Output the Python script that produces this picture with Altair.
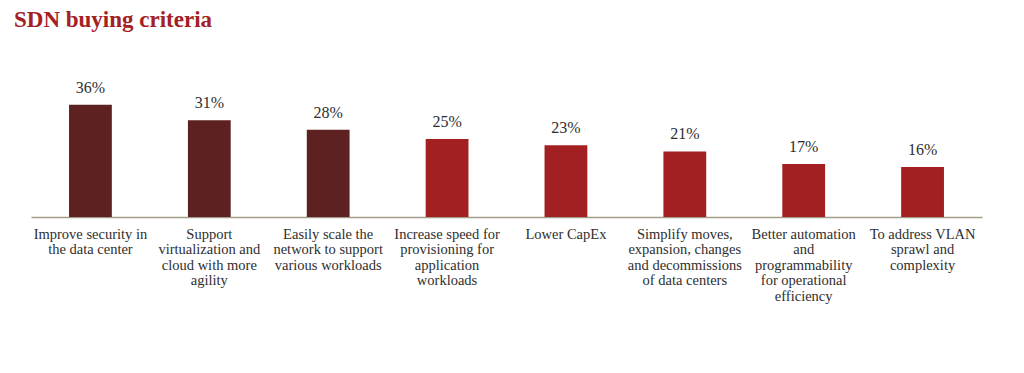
import altair as alt
import pandas as pd

categories = [
    "Improve security in|the data center",
    "Support|virtualization and|cloud with more|agility",
    "Easily scale the|network to support|various workloads",
    "Increase speed for|provisioning for|application|workloads",
    "Lower CapEx",
    "Simplify moves,|expansion, changes|and decommissions|of data centers",
    "Better automation|and|programmability|for operational|efficiency",
    "To address VLAN|sprawl and|complexity",
]
values = [36, 31, 28, 25, 23, 21, 17, 16]
groups = ["top", "top", "top", "rest", "rest", "rest", "rest", "rest"]

df = pd.DataFrame({"cat": categories, "value": values, "group": groups})
df["label"] = df["value"].astype(str) + "%"

FONT = "Liberation Serif"

x = alt.X("cat:N", sort=categories, title=None,
          scale=alt.Scale(paddingInner=0.64, paddingOuter=0.32),
          axis=alt.Axis(labelExpr="split(datum.label, '|')", labelAngle=0,
                        labelFont=FONT, labelFontSize=14.5, labelColor="#2e2e2e",
                        labelLineHeight=15.5, labelPadding=10, ticks=False,
                        domainColor="#a39e8c", domainWidth=1.3, labelLimit=200))
y = alt.Y("value:Q", scale=alt.Scale(domain=[0, 50]), axis=None)

bars = alt.Chart(df).mark_bar().encode(
    x=x, y=y,
    color=alt.Color("group:N", scale=alt.Scale(domain=["top", "rest"], range=["#5c2120", "#a21f22"]), legend=None),
)
text = alt.Chart(df).mark_text(dy=-9, font=FONT, fontSize=16, color="#2e2e2e", baseline="bottom").encode(
    x=alt.X("cat:N", sort=categories), y=y, text="label:N"
)

chart = alt.layer(bars, text).properties(
    width=951, height=156,
    title=alt.TitleParams("SDN buying criteria", anchor="start", frame="group", font=FONT,
                          fontSize=23, fontWeight="bold", color="#a32024", dx=-17, offset=29),
    autosize="none",
    padding={"left": 23, "top": 53, "right": 20, "bottom": 100},
).configure_view(stroke=None)

chart.save("out.html", embed_options={"renderer": "svg", "actions": False})
